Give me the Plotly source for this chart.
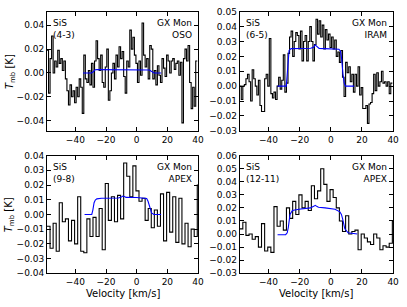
import numpy as np
import plotly.graph_objects as go

# ---------------- data ----------------
v_start = -58.5  # left edge of first channel [km/s]

# SiS (4-3), OSO, 1 km/s channels
dv_43 = 1.0
T_43 = [0.019, -0.017, 0.012, 0.031, 0.000, 0.010, 0.005, 0.019, 0.008, 0.012,
        0.002, 0.010, -0.005, -0.015, -0.027, -0.010, -0.020, -0.015, -0.025, -0.012,
        -0.020, -0.005, -0.012, -0.034, 0.015, -0.005, -0.008, 0.002, -0.010, 0.008,
        -0.012, 0.010, 0.027, 0.012, 0.002, 0.015, -0.008, -0.012, 0.005, 0.020,
        -0.023, -0.015, 0.000, 0.008, -0.005, 0.015, 0.005, 0.022, 0.012, 0.018,
        -0.003, -0.017, 0.010, 0.005, 0.036, 0.020, 0.030, 0.015, 0.008, -0.008,
        0.010, -0.002, 0.042, 0.015, 0.005, 0.012, -0.005, 0.023, 0.020, -0.005,
        0.002, -0.010, 0.006, -0.002, -0.008, 0.012, 0.004, -0.003, 0.015, 0.010,
        0.000, 0.010, 0.012, 0.003, 0.008, 0.010, -0.002, 0.009, -0.042, 0.012,
        0.020, 0.010, 0.023, -0.008, -0.030, -0.012, -0.028, 0.010]
model_v_43 = [-35, -29.5, -28.5, -27.8, -27.0, -26.0, 7.0, 8.3, 9.3, 10.3, 11.3, 16]
model_T_43 = [0.0, 0.0, 0.0008, 0.0020, 0.0027, 0.0028, 0.0028, 0.0025, 0.0016, 0.0006, 0.0, 0.0]

# SiS (6-5), IRAM, 1 km/s channels
dv_65 = 1.0
T_65 = [0.000, -0.009, 0.000, 0.001, 0.005, 0.008, 0.003, -0.010, 0.011, 0.005,
        0.000, -0.006, 0.004, -0.013, -0.017, -0.017, 0.005, 0.008, 0.000, 0.032,
        -0.005, -0.008, -0.004, -0.009, 0.000, 0.006, -0.002, 0.004, 0.021, -0.004,
        0.002, 0.022, 0.033, 0.037, 0.020, 0.030, 0.036, 0.034, 0.025, 0.037,
        0.017, 0.030, 0.034, 0.017, 0.030, 0.040, 0.030, 0.017, 0.028, 0.045,
        0.035, 0.044, 0.033, 0.041, 0.025, 0.038, 0.031, 0.035, 0.026, 0.033,
        0.025, 0.031, 0.020, 0.023, 0.016, 0.024, 0.006, -0.007, 0.016, 0.009,
        0.013, 0.003, 0.008, -0.004, 0.008, 0.000, 0.013, -0.006, -0.001, -0.015,
        -0.015, -0.013, -0.025, -0.012, -0.011, -0.005, 0.008, -0.003, 0.009, 0.000,
        0.003, 0.010, 0.002, 0.003, 0.000, 0.003, -0.005, 0.002]
model_v_65 = [-34.2, -28.6, -28.0, -27.4, -26.8, -25.5, -20, -13, -11, -10, -9, -7.5, -4, 3, 5.2, 6.2, 7.0, 7.8, 8.6, 9.4, 15]
model_T_65 = [0.0, 0.0, 0.008, 0.019, 0.0240, 0.0252, 0.0255, 0.0255, 0.0262, 0.0278, 0.0268, 0.0253, 0.0252, 0.0250, 0.0248, 0.0235, 0.018, 0.008, 0.002, 0.0, 0.0]

# SiS (9-8), APEX, 2 km/s channels
dv_98 = 2.0
T_98 = [-0.008, -0.023, -0.006, -0.025, 0.008, -0.005, -0.003, -0.018, -0.004, -0.020,
        0.012, -0.025, -0.026, -0.003, -0.015, -0.002, -0.015, 0.004, -0.024, 0.021,
        -0.004, 0.012, -0.005, 0.013, -0.003, 0.035, 0.026, 0.012, 0.033, 0.016,
        0.009, 0.011, -0.004, 0.004, -0.009, 0.003, -0.008, 0.014, -0.018, 0.015,
        -0.012, 0.012, -0.019, 0.011, -0.020, -0.006, -0.022, -0.010, -0.015, 0.020]
model_v_98 = [-34.0, -29.3, -28.6, -27.8, -27.0, -26.0, -23, -12, -10, -9, -8, -7, 0, 4.8, 6.5, 7.4, 8.2, 9.0, 9.7, 11.2, 15.9]
model_T_98 = [0.0, 0.0, 0.003, 0.008, 0.0098, 0.0106, 0.011, 0.0112, 0.0118, 0.0125, 0.0122, 0.0116, 0.0115, 0.0113, 0.0108, 0.009, 0.006, 0.003, 0.001, 0.0, 0.0]

# SiS (12-11), APEX, 2 km/s channels
dv_1211 = 2.0
T_1211 = [0.004, 0.009, -0.001, 0.000, -0.004, -0.002, -0.010, 0.008, -0.013, -0.010,
          -0.014, 0.021, 0.006, 0.010, 0.003, 0.020, 0.012, 0.025, 0.015, 0.030,
          0.020, 0.025, 0.018, 0.037, 0.027, 0.033, 0.050, 0.038, 0.025, 0.034,
          0.028, 0.020, 0.010, 0.002, 0.014, 0.000, 0.002, 0.003, -0.012, 0.000,
          -0.003, -0.006, -0.008, 0.000, -0.003, -0.012, -0.009, -0.010, -0.007, 0.010]
model_v_1211 = [-34.2, -29.0, -28.0, -27.3, -26.2, -24.7, -20.5, -13.1, -11, -10, -8.8, -7.9, -3.7, 2.7, 5.8, 6.8, 7.5, 8.3, 9.0, 11.1, 17]
model_T_1211 = [-0.0005, -0.0005, 0.001, 0.005, 0.015, 0.018, 0.019, 0.020, 0.0212, 0.022, 0.021, 0.0205, 0.020, 0.019, 0.017, 0.015, 0.012, 0.008, 0.004, 0.001, 0.0]

x_ticks = [-40, -20, 0, 20, 40]
x_range = [-58.5, 40]

panels = [
    dict(T=T_43, dv=dv_43, mv=model_v_43, mT=model_T_43, yr=[-0.0486, 0.0514], dt=0.02,
         left="SiS<br>(4-3)", right="GX Mon<br>OSO"),
    dict(T=T_65, dv=dv_65, mv=model_v_65, mT=model_T_65, yr=[-0.03, 0.05], dt=0.01,
         left="SiS<br>(6-5)", right="GX Mon<br>IRAM"),
    dict(T=T_98, dv=dv_98, mv=model_v_98, mT=model_T_98, yr=[-0.04, 0.04], dt=0.01,
         left="SiS<br>(9-8)", right="GX Mon<br>APEX"),
    dict(T=T_1211, dv=dv_1211, mv=model_v_1211, mT=model_T_1211, yr=[-0.03, 0.06], dt=0.01,
         left="SiS<br>(12-11)", right="GX Mon<br>APEX"),
]

W, H = 407, 307
xdoms = [[47.7 / W, 201 / W], [243.3 / W, 399 / W]]
ydoms = [[1 - 130 / H, 1 - 7 / H], [1 - 277.3 / H, 1 - 155.7 / H]]
FONT = "DejaVu Sans"

fig = go.Figure()
layout = dict(width=W, height=H, margin=dict(l=0, r=0, t=0, b=0),
              plot_bgcolor="white", paper_bgcolor="white", showlegend=False,
              font=dict(family=FONT, size=9, color="black"))
annotations = []

for i, p in enumerate(panels):
    row, col = divmod(i, 2)
    n = len(p["T"])
    edges = v_start + p["dv"] * np.arange(n + 1)
    vals = list(p["T"]) + [p["T"][-1]]
    sfx = "" if i == 0 else str(i + 1)
    fig.add_trace(go.Scatter(x=edges, y=vals, mode="lines", line_shape="hv",
                             line=dict(color="black", width=1.1),
                             xaxis="x" + sfx, yaxis="y" + sfx, hoverinfo="skip"))
    fig.add_trace(go.Scatter(x=p["mv"], y=p["mT"], mode="lines",
                             line=dict(color="#0000ff", width=1.1),
                             xaxis="x" + sfx, yaxis="y" + sfx, hoverinfo="skip"))
    common = dict(showline=True, linecolor="black", linewidth=1, mirror="ticks",
                  ticks="inside", ticklen=4, tickcolor="black", tickwidth=1,
                  showgrid=False, zeroline=False, tickfont=dict(family=FONT, size=9))
    layout["xaxis" + sfx] = dict(common, domain=xdoms[col], range=x_range,
                                 tickvals=x_ticks, anchor="y" + sfx)
    layout["yaxis" + sfx] = dict(common, domain=ydoms[row], range=p["yr"],
                                 dtick=p["dt"], tick0=0, tickformat=".2f",
                                 anchor="x" + sfx)
    annotations.append(dict(text=p["left"], xref="x" + sfx + " domain", yref="y" + sfx + " domain",
                            x=0.025, y=0.965, xanchor="left", yanchor="top", showarrow=False,
                            align="left", font=dict(family=FONT, size=9)))
    annotations.append(dict(text=p["right"], xref="x" + sfx + " domain", yref="y" + sfx + " domain",
                            x=0.975, y=0.965, xanchor="right", yanchor="top", showarrow=False,
                            align="right", font=dict(family=FONT, size=9)))

# axis labels
for row in range(2):
    yc = (ydoms[row][0] + ydoms[row][1]) / 2
    annotations.append(dict(text="<i>T</i><sub>mb</sub> [K]", xref="paper", yref="paper",
                            x=10 / W, y=yc, xanchor="center", yanchor="middle",
                            textangle=-90, showarrow=False, font=dict(family=FONT, size=10)))
for col in range(2):
    xc = (xdoms[col][0] + xdoms[col][1]) / 2
    annotations.append(dict(text="Velocity [km/s]", xref="paper", yref="paper",
                            x=xc, y=1 - 298 / H, xanchor="center", yanchor="middle",
                            showarrow=False, font=dict(family=FONT, size=10)))

layout["annotations"] = annotations
fig.update_layout(**layout)
fig.write_html("out.html", config={"displayModeBar": False},
               post_script="document.body.style.margin='0';document.body.style.overflow='hidden';")
